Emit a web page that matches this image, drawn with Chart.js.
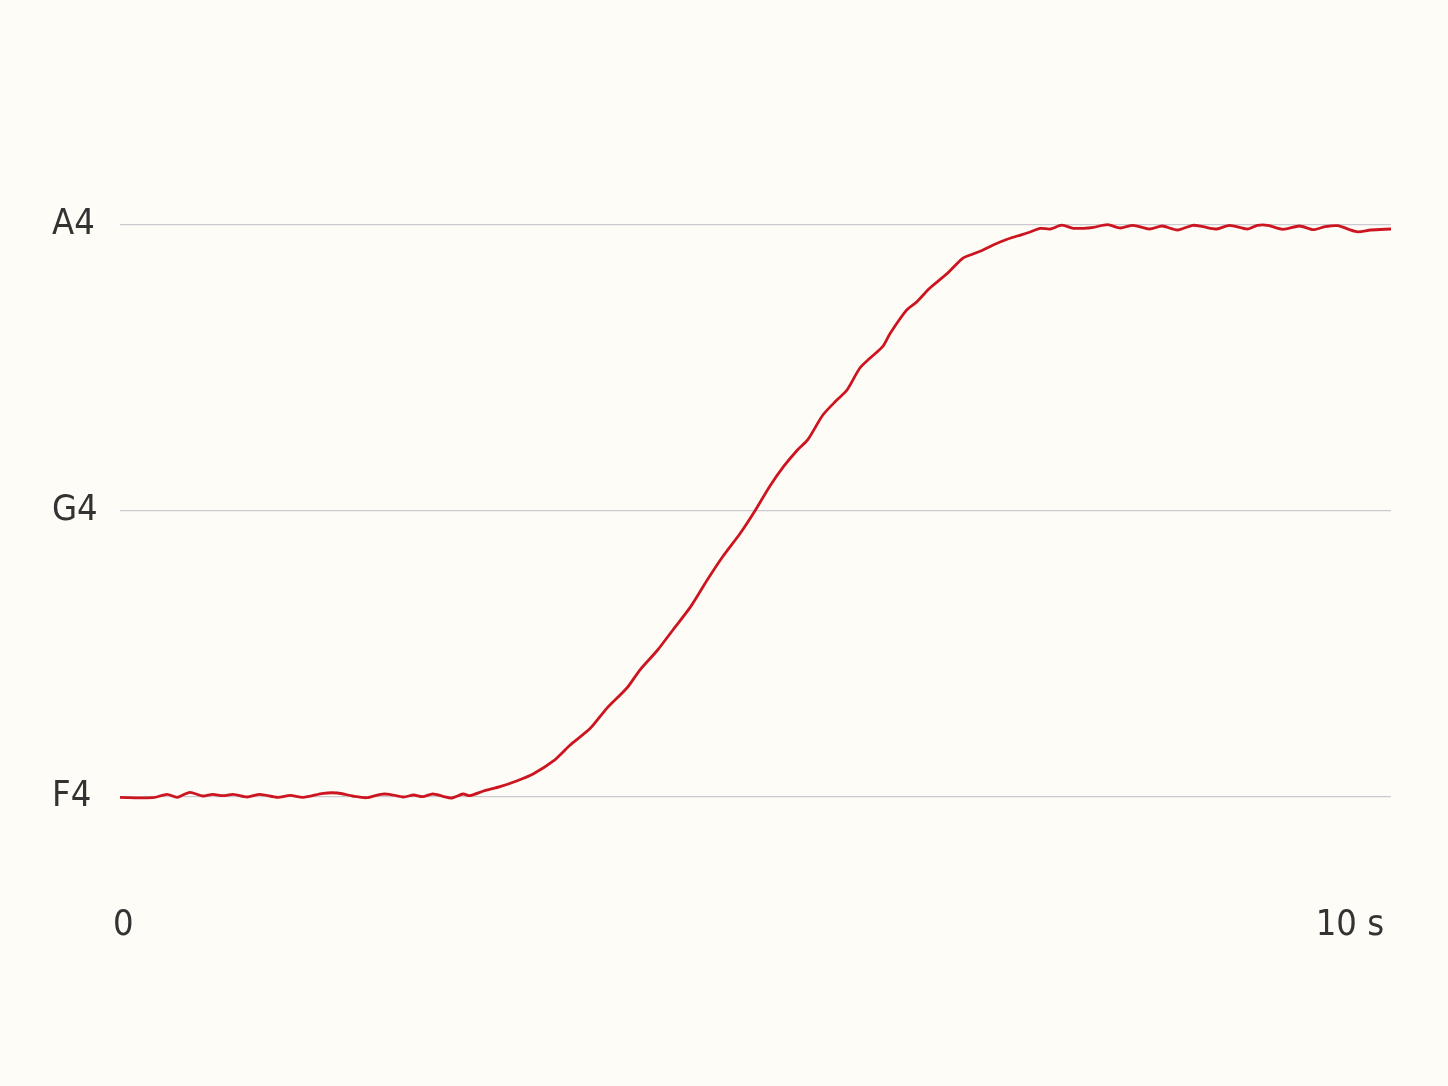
<!DOCTYPE html>
<html>
<head>
<meta charset="utf-8">
<script src="https://cdn.jsdelivr.net/npm/chart.js@4/dist/chart.umd.min.js"></script>
<style>
  html, body { margin: 0; padding: 0; background: #fdfcf6; }
  canvas { display: block; }
</style>
</head>
<body>
<canvas id="pitchChart" width="1448" height="1086"></canvas>
<script>
// time in seconds, pitch in semitones (MIDI note numbers: F4 = 65, G4 = 67, A4 = 69)
const times = [
  0.00, 0.26, 0.37, 0.45, 0.55, 0.65, 0.73, 0.81, 0.89, 1.00,
  1.10, 1.24, 1.34, 1.44, 1.60, 1.71, 1.83, 1.94, 2.05, 2.12,
  2.23, 2.31, 2.38, 2.46, 2.54, 2.61, 2.70, 2.75, 2.86, 2.99,
  3.12, 3.25, 3.41, 3.54, 3.70, 3.83, 3.99, 4.09, 4.23, 4.35,
  4.49, 4.62, 4.74, 4.88, 5.00, 5.11, 5.22, 5.33, 5.41, 5.53,
  5.64, 5.72, 5.82, 5.90, 6.00, 6.06, 6.19, 6.27, 6.37, 6.51,
  6.63, 6.71, 6.79, 6.87, 6.98, 7.06, 7.16, 7.24, 7.32, 7.41,
  7.50, 7.58, 7.66, 7.77, 7.87, 7.97, 8.10, 8.20, 8.32, 8.44,
  8.52, 8.63, 8.73, 8.87, 8.95, 9.03, 9.15, 9.28, 9.39, 9.48,
  9.58, 9.73, 9.84, 10.00
];
const pitch = [
  64.998, 64.995, 65.019, 64.998, 65.033, 65.007, 65.019, 65.009, 65.019, 65.000,
  65.019, 64.998, 65.012, 64.998, 65.026, 65.028, 65.007, 64.995, 65.019, 65.019,
  65.000, 65.014, 65.002, 65.021, 65.005, 64.993, 65.021, 65.009, 65.042, 65.072,
  65.112, 65.161, 65.252, 65.362, 65.480, 65.620, 65.764, 65.888, 66.028, 66.168,
  66.331, 66.517, 66.678, 66.844, 67.007, 67.170, 67.310, 67.427, 67.497, 67.671,
  67.776, 67.846, 67.998, 68.068, 68.149, 68.243, 68.406, 68.464, 68.558, 68.662,
  68.767, 68.797, 68.825, 68.860, 68.900, 68.923, 68.951, 68.976, 68.972, 68.999,
  68.977, 68.977, 68.984, 69.002, 68.979, 68.998, 68.972, 68.993, 68.965, 68.998,
  68.988, 68.972, 68.998, 68.972, 68.998, 68.998, 68.970, 68.993, 68.967, 68.988,
  68.995, 68.953, 68.965, 68.972
];
const noteValues = [65, 67, 69];
const noteLabels = ["F4", "G4", "A4"];
const timeTicks = [0, 10];
const timeLabels = ["0", "10 s"];

const FONT = "'Liberation Sans Narrow', 'DejaVu Sans Condensed', 'Roboto', sans-serif";

const points = times.map((t, i) => ({ x: t, y: pitch[i] }));

new Chart(document.getElementById("pitchChart"), {
  type: "line",
  data: {
    datasets: [{
      data: points,
      borderColor: "#cc1520",
      borderWidth: 2.8,
      pointRadius: 0,
      tension: 0.25,
      fill: false
    }]
  },
  options: {
    responsive: false,
    animation: false,
    devicePixelRatio: 1,
    layout: { padding: { left: 52, right: 57, top: 153.5, bottom: 117.5 } },
    plugins: { legend: { display: false }, tooltip: { enabled: false } },
    scales: {
      x: {
        type: "linear",
        min: 0,
        max: 10,
        afterBuildTicks: s => { s.ticks = timeTicks.map(v => ({ value: v })); },
        afterFit: s => { s.height = 100; },
        grid: { display: false, drawTicks: false },
        border: { display: false },
        ticks: {
          autoSkip: false,
          maxRotation: 0,
          align: "inner",
          labelOffset: -7,
          padding: 36,
          color: "#333333",
          font: { family: FONT, size: 36 },
          callback: (v, i) => timeLabels[i]
        }
      },
      y: {
        min: 64.5,
        max: 69.5,
        afterBuildTicks: s => { s.ticks = noteValues.map(v => ({ value: v })); },
        afterFit: s => { s.width = 68; },
        grid: { color: "#cacad2", lineWidth: 1.2, drawTicks: false },
        border: { display: false },
        ticks: {
          crossAlign: "far",
          color: "#333333",
          font: { family: FONT, size: 36 },
          callback: (v, i) => noteLabels[i]
        }
      }
    }
  }
});
</script>
</body>
</html>
